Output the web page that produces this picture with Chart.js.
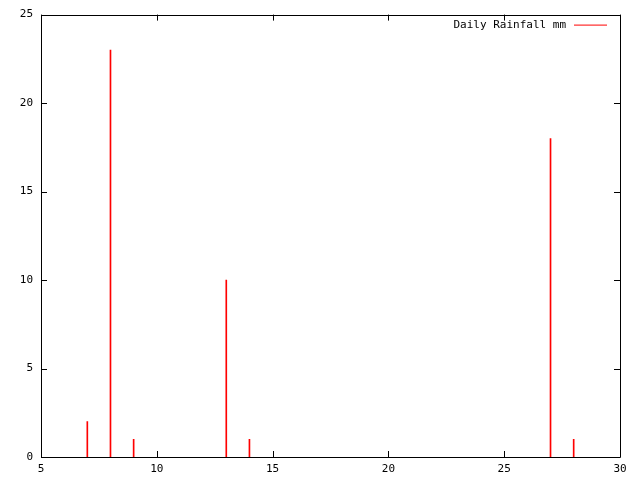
<!DOCTYPE html>
<html>
<head>
<meta charset="utf-8">
<script src="https://cdn.jsdelivr.net/npm/chart.js@4/dist/chart.umd.min.js"></script>
<style>
  html, body { margin: 0; padding: 0; background: #fff; }
  #wrap { width: 640px; height: 480px; }
</style>
</head>
<body>
<div id="wrap"><canvas id="graf_chuva" width="640" height="480"></canvas></div>
<script>
// dados
const dias = [7, 8, 9, 13, 14, 27, 28];
const chuvaMm = [2, 23, 1, 10, 1, 18, 1];
const serieNome = "Daily Rainfall mm";
const ticksX = [5, 10, 15, 20, 25, 30];
const ticksY = [0, 5, 10, 15, 20, 25];

const fonte = { family: "'DejaVu Sans Mono', monospace", size: 11 };

// moldura com ticks para dentro (estilo gnuplot) + legenda
const molduraPlugin = {
  id: "moldura",
  afterDraw(chart) {
    const ctx = chart.ctx;
    const a = chart.chartArea;
    const sx = chart.scales.x;
    const sy = chart.scales.y;
    ctx.save();
    ctx.strokeStyle = "#000";
    ctx.lineWidth = 1;
    ctx.beginPath();
    ctx.rect(Math.round(a.left) + 0.5, Math.round(a.top) + 0.5,
      Math.round(a.right - a.left), Math.round(a.bottom - a.top));
    const t = 6;
    ticksX.forEach((v) => {
      const px = Math.round(sx.getPixelForValue(v)) + 0.5;
      ctx.moveTo(px, a.bottom);
      ctx.lineTo(px, a.bottom - t);
      ctx.moveTo(px, a.top);
      ctx.lineTo(px, a.top + t);
    });
    ticksY.forEach((v) => {
      const py = Math.round(sy.getPixelForValue(v)) + 0.5;
      ctx.moveTo(a.left, py);
      ctx.lineTo(a.left + t, py);
      ctx.moveTo(a.right, py);
      ctx.lineTo(a.right - t, py);
    });
    ctx.stroke();

    // legenda
    ctx.font = fonte.size + "px " + fonte.family;
    ctx.fillStyle = "#000";
    ctx.textAlign = "right";
    ctx.textBaseline = "middle";
    ctx.fillText(chart.data.datasets[0].label, a.right - 54, a.top + 10.5);
    ctx.strokeStyle = "#ff0000";
    ctx.beginPath();
    ctx.moveTo(a.right - 46, a.top + 10.5);
    ctx.lineTo(a.right - 13, a.top + 10.5);
    ctx.stroke();
    ctx.restore();
  },
};

const dados = {
  datasets: [
    {
      label: serieNome,
      data: dias.map((d, i) => ({ x: d, y: chuvaMm[i] })),
      backgroundColor: "#ff0000",
      borderWidth: 0,
      barThickness: 1,
    },
  ],
};

const config = {
  type: "bar",
  data: dados,
  options: {
    animation: false,
    responsive: false,
    devicePixelRatio: 1,
    layout: { padding: { top: 13, right: 20, left: 0, bottom: 0 } },
    plugins: { legend: { display: false }, tooltip: { enabled: false } },
    scales: {
      x: {
        type: "linear",
        min: 5,
        max: 30,
        offset: false,
        grid: { display: false, drawTicks: false },
        border: { display: false },
        ticks: { stepSize: 5, color: "#000", font: fonte, padding: 6, maxRotation: 0 },
        afterFit(scale) { scale.height = 23; },
      },
      y: {
        min: 0,
        max: 25,
        grid: { display: false, drawTicks: false },
        border: { display: false },
        ticks: { stepSize: 5, color: "#000", font: fonte, padding: 8 },
        afterFit(scale) { scale.width = 41; },
      },
    },
  },
  plugins: [molduraPlugin],
};

const grafico = new Chart(document.getElementById("graf_chuva"), config);
</script>
</body>
</html>
